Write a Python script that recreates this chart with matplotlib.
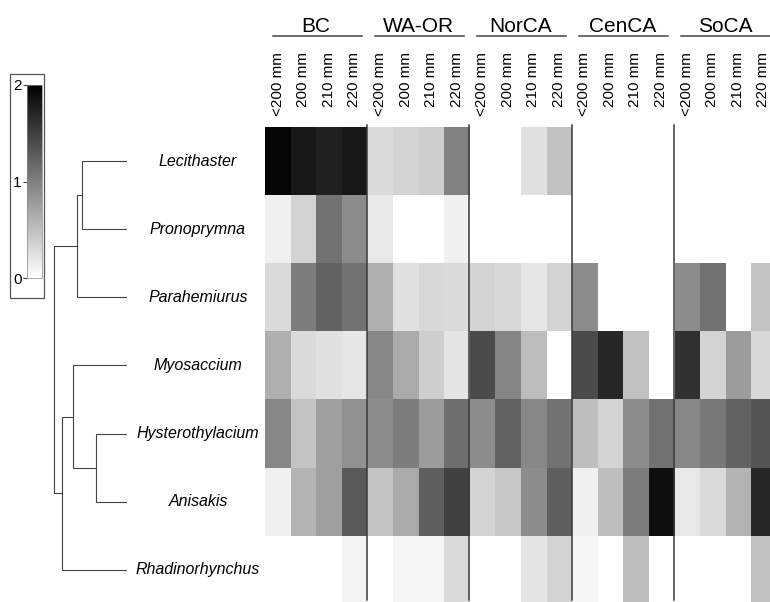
import matplotlib
matplotlib.use("Agg")
import matplotlib.pyplot as plt
import matplotlib.transforms as mtransforms
from matplotlib.colors import LinearSegmentedColormap
from matplotlib.patches import Rectangle
import numpy as np

plt.rcParams['font.family'] = ['Liberation Sans', 'DejaVu Sans']

taxa = ['Lecithaster', 'Pronoprymna', 'Parahemiurus', 'Myosaccium',
        'Hysterothylacium', 'Anisakis', 'Rhadinorhynchus']
regions = ['BC', 'WA-OR', 'NorCA', 'CenCA', 'SoCA']
sizes = ['<200 mm', '200 mm', '210 mm', '220 mm']

# one block per region: rows = taxa, cols = sizes
bc = [[1.96, 1.80, 1.73, 1.80],
      [0.12, 0.34, 1.10, 0.90],
      [0.29, 1.02, 1.22, 1.10],
      [0.63, 0.29, 0.24, 0.20],
      [0.94, 0.47, 0.75, 0.86],
      [0.12, 0.59, 0.75, 1.29],
      [0.00, 0.00, 0.00, 0.10]]
wa_or = [[0.29, 0.35, 0.39, 0.98],
         [0.18, 0.00, 0.00, 0.12],
         [0.63, 0.24, 0.31, 0.29],
         [0.94, 0.67, 0.39, 0.21],
         [0.90, 1.02, 0.78, 1.14],
         [0.47, 0.67, 1.25, 1.49],
         [0.00, 0.08, 0.08, 0.29]]
nor_ca = [[0.00, 0.00, 0.24, 0.49],
          [0.00, 0.00, 0.00, 0.00],
          [0.34, 0.31, 0.20, 0.35],
          [1.41, 0.96, 0.53, 0.00],
          [0.90, 1.22, 0.94, 1.10],
          [0.35, 0.43, 0.90, 1.25],
          [0.00, 0.00, 0.21, 0.34]]
cen_ca = [[0.00, 0.00, 0.00, 0.00],
          [0.00, 0.00, 0.00, 0.00],
          [0.90, 0.00, 0.00, 0.00],
          [1.41, 1.69, 0.49, 0.00],
          [0.51, 0.35, 0.90, 1.10],
          [0.12, 0.51, 1.02, 1.88],
          [0.08, 0.00, 0.51, 0.00]]
so_ca = [[0.00, 0.00, 0.00, 0.00],
         [0.00, 0.00, 0.00, 0.00],
         [0.90, 1.10, 0.00, 0.47],
         [1.61, 0.35, 0.78, 0.31],
         [0.94, 1.06, 1.22, 1.33],
         [0.18, 0.29, 0.60, 1.69],
         [0.00, 0.00, 0.00, 0.49]]

# dendrogram merges (child a, child b, height); leaves 0..6, new nodes 7..
merges = [(0, 1, 44), (7, 2, 49), (4, 5, 30), (3, 9, 53), (10, 6, 64), (8, 11, 72)]

W, H = 770, 602
fig = plt.figure(figsize=(W / 100, H / 100), dpi=100)

def fx(px):
    return px / W

def fy(py):
    return 1 - py / H

data = np.hstack([bc, wa_or, nor_ca, cen_ca, so_ca])
cmap = LinearSegmentedColormap.from_list('wb', ['white', 'black'])

# heatmap (runs a little past the right edge like the original)
hm_top, row_h, col_w = 127.3, 68.05, 25.55
hm_bot = hm_top + row_h * len(taxa)
ax = fig.add_axes([fx(265), fy(hm_bot), data.shape[1] * col_w / W, row_h * len(taxa) / H])
im = ax.imshow(data, cmap=cmap, vmin=0, vmax=2, aspect='auto', interpolation='nearest')
ax.axis('off')

tr = mtransforms.blended_transform_factory(ax.transData, fig.transFigure)
ncol = len(sizes)
for g, reg in enumerate(regions):
    x0 = g * ncol - 0.5
    ax.text(x0 + ncol / 2, fy(32), reg, transform=tr, ha='center', va='baseline',
            fontsize=15, clip_on=False)
    ax.plot([x0 + 0.3, x0 + ncol - 0.22], [fy(35.7)] * 2, transform=tr,
            color='#444444', lw=1.1, clip_on=False)
    for k, s in enumerate(sizes):
        ax.text(g * ncol + k, fy(52), s, transform=tr, rotation=90, ha='center',
                va='top', fontsize=11, clip_on=False)
    if g > 0:
        ax.plot([x0, x0], [fy(125), fy(600)], transform=tr, color='#3a3a3a',
                lw=1.1, clip_on=False)

# dendrogram
axd = fig.add_axes([fx(54), fy(hm_bot), fx(72), row_h * len(taxa) / H], sharey=ax)
axd.set_xlim(72, 0)
axd.axis('off')
pos = {i: (float(i), 0.0) for i in range(len(taxa))}
for n, (a, b, h) in enumerate(merges):
    ya, ha_ = pos[a]
    yb, hb = pos[b]
    axd.plot([ha_, h, h, hb], [ya, ya, yb, yb], color='#444444', lw=0.8,
             clip_on=False, solid_joinstyle='miter')
    pos[len(taxa) + n] = ((ya + yb) / 2, h)

for i, name in enumerate(taxa):
    axd.text(-72, i, name, ha='center', va='center', fontsize=11.5,
             style='italic', clip_on=False)

# colour key
cax = fig.add_axes([fx(27), fy(278), fx(15), 193 / H])
cb = fig.colorbar(im, cax=cax, ticks=[0, 1, 2])
cax.yaxis.set_ticks_position('left')
cax.yaxis.set_label_position('left')
cax.tick_params(labelsize=11, length=3, width=0.8, color='#444444', pad=1.0)
cb.outline.set_linewidth(0.5)
cb.outline.set_edgecolor('#888888')
fig.add_artist(Rectangle((fx(9.5), fy(298)), fx(34.5), 224 / H, transform=fig.transFigure,
                         fill=False, edgecolor='#555555', lw=0.9))

fig.savefig('out.png', dpi=100)
